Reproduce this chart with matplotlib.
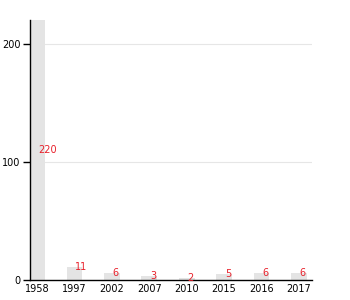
import matplotlib
matplotlib.use("Agg")
from matplotlib import pyplot as plt

# Chart data
years = ["1958", "1997", "2002", "2007", "2010", "2015", "2016", "2017"]
counts = [220, 11, 6, 3, 2, 5, 6, 6]
y_ticks = [0, 100, 200]

fig = plt.figure(figsize=(3.5, 3.0), dpi=100)
ax = fig.add_axes([30/350, 20/300, 282/350, 260/300])

x = range(len(years))
ax.bar(x, counts, width=0.42, color="#e4e4e4", zorder=2)

# Value labels (tall bar gets its label halfway up)
for i, v in enumerate(counts):
    y = v if v < 200 else v / 2
    ax.text(i + 0.02, y, str(v), color="#e8202a", fontsize=7, ha="left", va="center", zorder=3)

ax.set_xlim(-0.19, 7.35)
ax.set_ylim(0, 220)
ax.set_xticks(list(x))
ax.set_xticklabels(years, fontsize=7)
ax.set_yticks(y_ticks)
ax.set_yticklabels([str(t) for t in y_ticks], fontsize=7)
ax.tick_params(axis="x", length=0, pad=3)
ax.tick_params(axis="y", length=5, width=1, pad=2)

ax.grid(axis="y", color="#e6e6e6", linewidth=0.8, zorder=1)
ax.spines["top"].set_visible(False)
ax.spines["right"].set_visible(False)
ax.spines["left"].set_linewidth(1)
ax.spines["bottom"].set_linewidth(1)

fig.savefig("out.png", dpi=100)
